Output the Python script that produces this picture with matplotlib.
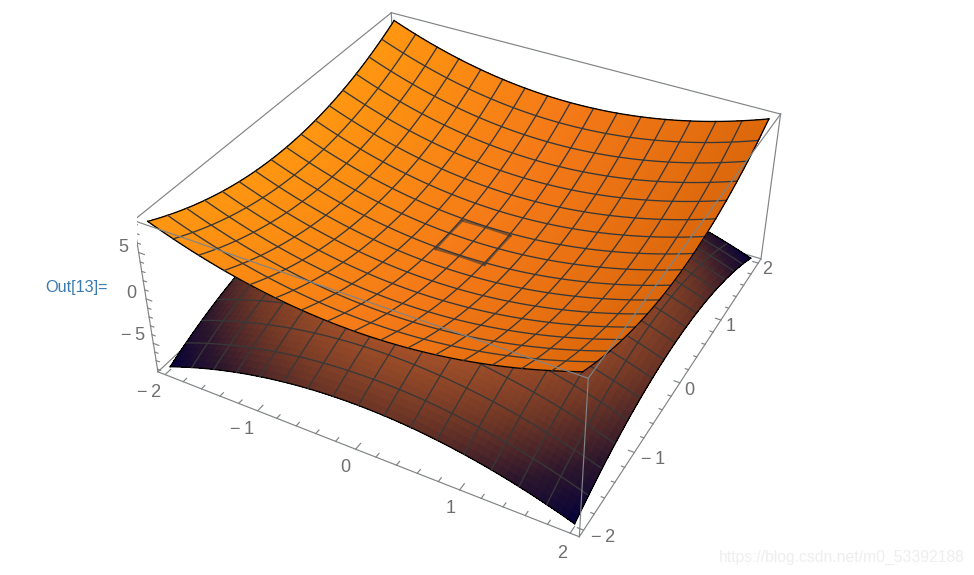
import matplotlib
matplotlib.use('Agg')
from matplotlib import pyplot as plt
from matplotlib.colors import LinearSegmentedColormap
from mpl_toolkits.mplot3d import proj3d
import numpy as np

# sample positions along x and y, one value every 1/16
grid = [-2.0, -1.9375, -1.875, -1.8125, -1.75, -1.6875, -1.625, -1.5625, -1.5, -1.4375, -1.375,
        -1.3125, -1.25, -1.1875, -1.125, -1.0625, -1.0, -0.9375, -0.875, -0.8125, -0.75, -0.6875,
        -0.625, -0.5625, -0.5, -0.4375, -0.375, -0.3125, -0.25, -0.1875, -0.125, -0.0625, 0.0,
        0.0625, 0.125, 0.1875, 0.25, 0.3125, 0.375, 0.4375, 0.5, 0.5625, 0.625, 0.6875, 0.75,
        0.8125, 0.875, 0.9375, 1.0, 1.0625, 1.125, 1.1875, 1.25, 1.3125, 1.375, 1.4375, 1.5,
        1.5625, 1.625, 1.6875, 1.75, 1.8125, 1.875, 1.9375, 2.0]

# height of the upper sheet along one axis, the other axis held at 0
upper_profile = [4.0, 3.754, 3.516, 3.285, 3.063, 2.848, 2.641, 2.441, 2.25, 2.066, 1.891,
                 1.723, 1.563, 1.41, 1.266, 1.129, 1.0, 0.879, 0.766, 0.66, 0.563, 0.473,
                 0.391, 0.316, 0.25, 0.191, 0.141, 0.098, 0.063, 0.035, 0.016, 0.004, 0.0,
                 0.004, 0.016, 0.035, 0.063, 0.098, 0.141, 0.191, 0.25, 0.316, 0.391, 0.473,
                 0.563, 0.66, 0.766, 0.879, 1.0, 1.129, 1.266, 1.41, 1.563, 1.723, 1.891,
                 2.066, 2.25, 2.441, 2.641, 2.848, 3.063, 3.285, 3.516, 3.754, 4.0]
# same for the lower sheet
lower_profile = [-4.0, -3.754, -3.516, -3.285, -3.063, -2.848, -2.641, -2.441, -2.25, -2.066,
                 -1.891, -1.723, -1.563, -1.41, -1.266, -1.129, -1.0, -0.879, -0.766, -0.66,
                 -0.563, -0.473, -0.391, -0.316, -0.25, -0.191, -0.141, -0.098, -0.063, -0.035,
                 -0.016, -0.004, 0.0, -0.004, -0.016, -0.035, -0.063, -0.098, -0.141, -0.191,
                 -0.25, -0.316, -0.391, -0.473, -0.563, -0.66, -0.766, -0.879, -1.0, -1.129,
                 -1.266, -1.41, -1.563, -1.723, -1.891, -2.066, -2.25, -2.441, -2.641, -2.848,
                 -3.063, -3.285, -3.516, -3.754, -4.0]

x_major = [-2, -1, 0, 1, 2]
y_major = [-2, -1, 0, 1, 2]
z_major = [-5, 0, 5]
xy_minor = [-1.8, -1.6, -1.4, -1.2, -0.8, -0.6, -0.4, -0.2, 0.2, 0.4, 0.6, 0.8, 1.2, 1.4, 1.6, 1.8]
z_minor = [-8, -7, -6, -4, -3, -2, -1, 1, 2, 3, 4, 6, 7, 8]

# colours of the two sheets
upper_colors = ['#ff9610', '#f57a18', '#dc680c']
lower_colors = ['#b85e2a', '#a04f28', '#6c3526', '#2c162c', '#05013a']

BOX_XY = 2.08
BOX_Z = 8.32
GRAY = '#808486'
LABEL = '#6e6e6e'
MESH = '#383838'
FONT = 'Liberation Sans'


def cell_values(values):
    # plot_surface takes the colour of a face from its first corner, so use the mean of all four
    cells = (values[:-1, :-1] + values[1:, :-1] + values[:-1, 1:] + values[1:, 1:]) / 4
    return np.pad(cells, ((0, 1), (0, 1)), mode='edge')


def draw_mesh(ax, xs, zs, step, color, lw, zorder):
    n = len(xs)
    for i in range(0, n, step):
        edge = i == 0 or i == n - 1
        c = 'black' if edge else color
        ax.plot(xs, np.full(n, xs[i]), zs[i, :], color=c, lw=lw, zorder=zorder)
        ax.plot(np.full(n, xs[i]), xs, zs[:, i], color=c, lw=lw, zorder=zorder)


def box_line(ax, a, b, zorder):
    ax.plot([a[0], b[0]], [a[1], b[1]], [a[2], b[2]], color=GRAY, lw=0.85, zorder=zorder)


def tick_text(v):
    return f'\u2212\u2009{-v}' if v < 0 else str(v)


def tick_label(ax, x, y, z, v):
    # put the label at the projected spot as plain 2D text
    u, w, _ = proj3d.proj_transform(x, y, z, ax.get_proj())
    ax.text2D(u, w, tick_text(v), transform=ax.transData, color=LABEL, fontsize=13, family=FONT,
              ha='center', va='center', zorder=7)


fig = plt.figure(figsize=(9.74, 5.75), dpi=100)
# square axes placed so the box lands where the reference has it
ax = fig.add_axes([136.825 / 974, -2.73 / 575, 655.26 / 974, 655.26 / 575], projection='3d',
                  computed_zorder=False)
ax.set_axis_off()
ax.set_xticks([])
ax.set_yticks([])
ax.set_zticks([])

b = BOX_XY
h = BOX_Z
ax.set_xlim(-b, b)
ax.set_ylim(-b, b)
ax.set_zlim(-h, h)
ax.set_box_aspect((1, 1, 0.3989))
ax.view_init(36.2003, -61.4476, 0.1098)
ax.set_proj_type('persp', focal_length=0.4359)

xs = np.array(grid)
X, Y = np.meshgrid(xs, xs)
Z_upper = np.add.outer(upper_profile, upper_profile)
Z_lower = np.add.outer(lower_profile, lower_profile)

upper_cmap = LinearSegmentedColormap.from_list('upper', upper_colors)
lower_cmap = LinearSegmentedColormap.from_list('lower', lower_colors)
upper_face = upper_cmap(cell_values((X + 2) / 4))
lower_face = lower_cmap(cell_values(-Z_lower / 8))

# hidden edges of the box go first
box_line(ax, (-b, b, -h), (-b, -b, -h), 0)
box_line(ax, (-b, b, -h), (b, b, -h), 0)
box_line(ax, (-b, b, -h), (-b, b, h), 0)
box_line(ax, (-b, -b, -h), (b, -b, -h), 0)
box_line(ax, (b, -b, -h), (b, b, -h), 0)
box_line(ax, (-b, -b, -h), (-b, -b, h), 0)
box_line(ax, (b, b, -h), (b, b, h), 0)
box_line(ax, (-b, -b, h), (-b, b, h), 0)
box_line(ax, (-b, b, h), (b, b, h), 0)

ax.plot_surface(X, Y, Z_lower, facecolors=lower_face, rstride=1, cstride=1, shade=False,
                linewidth=0, antialiased=False, zorder=1)
draw_mesh(ax, xs, Z_lower, 4, MESH, 0.95, 2)

ax.plot_surface(X, Y, Z_upper, facecolors=upper_face, rstride=1, cstride=1, shade=False,
                linewidth=0, antialiased=False, zorder=3)
draw_mesh(ax, xs, Z_upper, 4, MESH, 0.95, 4)

# the sheets touch at the origin, the lower mesh shows through there
for i in (28, 36):
    ax.plot(xs[28:37], np.full(9, xs[i]), Z_lower[i, 28:37], color=MESH, lw=1.6, alpha=0.6, zorder=5)
    ax.plot(np.full(9, xs[i]), xs[28:37], Z_lower[28:37, i], color=MESH, lw=1.6, alpha=0.6, zorder=5)

# front edges are drawn over the sheets
box_line(ax, (-b, -b, h), (b, -b, h), 6)
box_line(ax, (b, b, h), (b, -b, h), 6)
box_line(ax, (b, -b, -h), (b, -b, h), 6)

# ticks
for t, ln in [(v, 0.08) for v in x_major] + [(v, 0.05) for v in xy_minor]:
    ax.plot([t, t], [-b, -b + ln], [-h, -h], color=GRAY, lw=0.85, zorder=6)
for t, ln in [(v, 0.055) for v in y_major] + [(v, 0.03) for v in xy_minor]:
    ax.plot([b, b - ln], [t, t], [-h, -h], color=GRAY, lw=0.85, zorder=6)
for t, ln in [(v, 0.06) for v in z_major] + [(v, 0.035) for v in z_minor]:
    ax.plot([-b, -b + ln], [-b, -b], [t, t], color=GRAY, lw=0.85, zorder=6)

for v in x_major:
    dx, d = (0.02, 0.26) if v < 0 else (0.04, 0.22)
    tick_label(ax, v + dx, -b - d, -h, v)
for v in y_major:
    dy, d = (0.0, 0.17) if v < 0 else (-0.05, 0.11)
    tick_label(ax, b + d, v + dy, -h, v)
for v in z_major:
    d = 0.22 if v < 0 else 0.16
    tick_label(ax, -b - d, -b, v, v)

fig.text(45 / 974, 1 - 292 / 575, 'Out[13]=', color='#3a7ab0', fontsize=11.7, family=FONT,
         va='baseline', ha='left')
fig.text(965 / 974, 1 - 562 / 575, 'https://blog.csdn.net/m0_53392188', color='#eeeeee',
         fontsize=11.3, family=FONT, va='baseline', ha='right')

fig.savefig('out.png', dpi=100)
